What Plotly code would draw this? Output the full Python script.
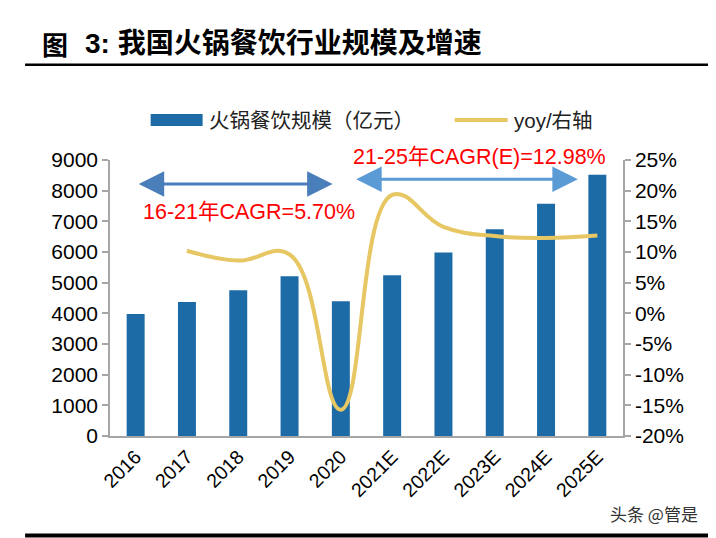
import plotly.graph_objects as go

# ---------------- data ----------------
years = ["2016", "2017", "2018", "2019", "2020", "2021E", "2022E", "2023E", "2024E", "2025E"]
scale = [3980, 4370, 4750, 5210, 4390, 5240, 5980, 6740, 7570, 8520]          # 火锅餐饮规模（亿元）
yoy_years = ["2017", "2018", "2019", "2020", "2021E", "2022E", "2023E", "2024E", "2025E"]
yoy = [0.102, 0.086, 0.096, -0.157, 0.193, 0.141, 0.126, 0.123, 0.127]          # yoy/右轴
left_ticks = [0, 1000, 2000, 3000, 4000, 5000, 6000, 7000, 8000, 9000]
right_ticks = [-0.20, -0.15, -0.10, -0.05, 0.0, 0.05, 0.10, 0.15, 0.20, 0.25]
right_ticktext = ["-20%", "-15%", "-10%", "-5%", "0%", "5%", "10%", "15%", "20%", "25%"]

# ---------------- layout helpers ----------------
PAGE_W, PAGE_H = 716, 538
OFF = 8                      # default page body margin
W, H = PAGE_W - OFF, PAGE_H - OFF
L, R, T, B = 110, 623.5, 160, 436   # plot area in page pixels


def px(x):
    return (x - L) / (R - L)


def py(y):
    return (B - y) / (B - T)


BAR = "#1C6AA6"
GOLD = "#E6C763"
FONT = "Liberation Sans, Arial, Noto Sans CJK SC, sans-serif"
CJK = "Noto Sans CJK SC, sans-serif"

fig = go.Figure()
fig.add_trace(go.Bar(x=years, y=scale, marker=dict(color=BAR, line=dict(width=0)),
                     width=0.35, name="火锅餐饮规模（亿元）", yaxis="y"))
fig.add_trace(go.Scatter(x=yoy_years, y=yoy, mode="lines", name="yoy/右轴",
                         line=dict(color=GOLD, width=4, shape="spline", smoothing=1.2),
                         yaxis="y2"))

axis_gray = "#A6A6A6"
fig.update_layout(
    width=W, height=H,
    margin=dict(l=L - OFF, r=PAGE_W - R, t=T - OFF, b=PAGE_H - B, pad=0),
    paper_bgcolor="white", plot_bgcolor="white",
    showlegend=False,
    font=dict(family=FONT, color="black"),
    xaxis=dict(type="category", showline=True, linecolor=axis_gray, linewidth=1.5,
               ticks="", tickangle=-45, tickfont=dict(size=19.5, family=FONT),
               showgrid=False, zeroline=False, range=[-0.5, 9.5]),
    yaxis=dict(range=[0, 9000], tickvals=left_ticks, showline=True, linecolor=axis_gray,
               linewidth=1.5, ticks="outside", ticklen=6, tickcolor=axis_gray, tickwidth=1.5,
               showgrid=False, zeroline=False, tickfont=dict(size=21, family=FONT)),
    yaxis2=dict(range=[-0.20, 0.25], tickvals=right_ticks, ticktext=right_ticktext,
                overlaying="y", side="right", showline=True, linecolor=axis_gray,
                linewidth=1.5, ticks="outside", ticklen=6, tickcolor=axis_gray, tickwidth=1.5,
                showgrid=False, zeroline=False, tickfont=dict(size=21, family=FONT)),
)

shapes = [
    # title rule and bottom rule
    dict(type="line", xref="paper", yref="paper", x0=px(25), x1=px(712), y0=py(64.7), y1=py(64.7),
         line=dict(color="black", width=2.5)),
    dict(type="line", xref="paper", yref="paper", x0=px(25), x1=px(716), y0=py(535.5), y1=py(535.5),
         line=dict(color="black", width=4)),
    # legend symbols
    dict(type="rect", xref="paper", yref="paper", x0=px(150.7), x1=px(202.7), y0=py(126), y1=py(114),
         fillcolor=BAR, line=dict(width=0)),
    dict(type="line", xref="paper", yref="paper", x0=px(455), x1=px(508), y0=py(120), y1=py(120),
         line=dict(color=GOLD, width=4)),
]
fig.update_layout(shapes=shapes)

ann = []
# title
ann.append(dict(text="<b>图</b>", x=px(40), y=py(44), xref="paper", yref="paper",
                xanchor="left", yanchor="middle", showarrow=False,
                font=dict(size=26, family=CJK, color="black")))
ann.append(dict(text="<b>3: 我国火锅餐饮行业规模及增速</b>", x=px(83), y=py(44), xref="paper", yref="paper",
                xanchor="left", yanchor="middle", showarrow=False,
                font=dict(size=28, family=FONT, color="black")))
# legend texts
ann.append(dict(text="火锅餐饮规模（亿元）", x=px(207), y=py(120), xref="paper", yref="paper",
                xanchor="left", yanchor="middle", showarrow=False,
                font=dict(size=20.5, family=FONT, color="#222")))
ann.append(dict(text="yoy/右轴", x=px(512), y=py(120), xref="paper", yref="paper",
                xanchor="left", yanchor="middle", showarrow=False,
                font=dict(size=20.5, family=FONT, color="#222")))
# CAGR texts
ann.append(dict(text="16-21年CAGR=5.70%", x=px(249), y=py(212), xref="paper", yref="paper",
                xanchor="center", yanchor="middle", showarrow=False,
                font=dict(size=21.5, family=FONT, color="#FF0000")))
ann.append(dict(text="21-25年CAGR(E)=12.98%", x=px(480), y=py(157), xref="paper", yref="paper",
                xanchor="center", yanchor="middle", showarrow=False,
                font=dict(size=21.5, family=FONT, color="#FF0000")))
# double arrows (data coordinates)
ann.append(dict(text="", x=3.84, y=8217, ax=0.03, ay=8217, xref="x", yref="y", axref="x", ayref="y",
                showarrow=True, arrowhead=2, arrowside="end+start", arrowsize=1.7, arrowwidth=3,
                arrowcolor="#4A7EBB", standoff=0, startstandoff=0, startarrowhead=2, startarrowsize=1.7))
ann.append(dict(text="", x=8.62, y=8370, ax=4.27, ay=8370, xref="x", yref="y", axref="x", ayref="y",
                showarrow=True, arrowhead=2, arrowside="end+start", arrowsize=1.7, arrowwidth=3,
                arrowcolor="#5B9BD5", standoff=0, startstandoff=0, startarrowhead=2, startarrowsize=1.7))
# watermark
ann.append(dict(text="头条 @管是", x=px(701), y=py(513), xref="paper", yref="paper",
                xanchor="right", yanchor="middle", showarrow=False,
                font=dict(size=17, family=CJK, color="#333")))
fig.update_layout(annotations=ann)

fig.write_html("out.html")
